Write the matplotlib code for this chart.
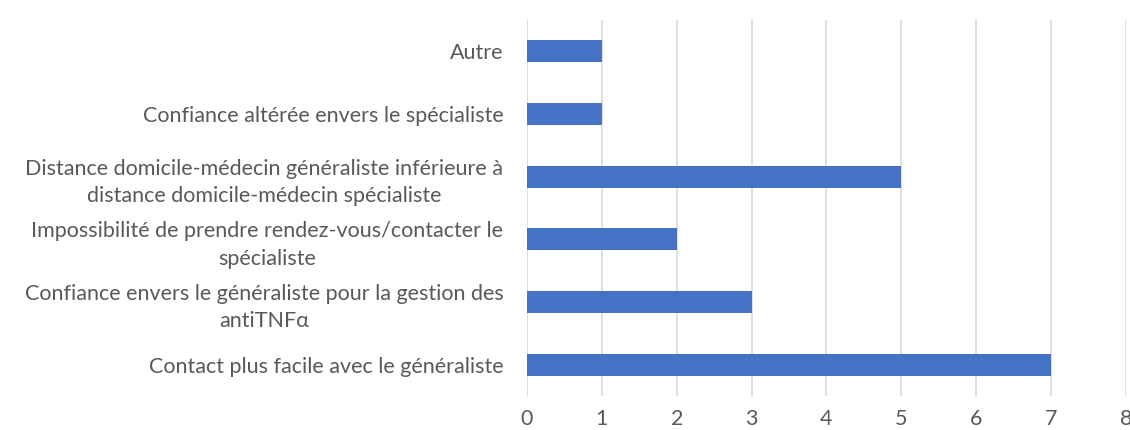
import matplotlib.pyplot as plt

# categories from top to bottom
labels = [
    "Autre",
    "Confiance altérée envers le spécialiste",
    "Distance domicile-médecin généraliste inférieure à\ndistance domicile-médecin spécialiste",
    "Impossibilité de prendre rendez-vous/contacter le\nspécialiste",
    "Confiance envers le généraliste pour la gestion des\nantiTNFα",
    "Contact plus facile avec le généraliste",
]
values = [1, 1, 5, 2, 3, 7]
xticks = [0, 1, 2, 3, 4, 5, 6, 7, 8]

plt.rcParams['font.family'] = ['Lato', 'DejaVu Sans']
text_color = '#595959'

fig = plt.figure(figsize=(11.3, 4.3), dpi=100)
ax = fig.add_axes([0.4664, 0.079, 0.5300, 0.8745])

pos = list(range(len(labels)))
ax.barh(pos, values, height=0.35, color='#4472C4', zorder=3)

ax.set_ylim(len(labels) - 0.5, -0.5)
ax.set_xlim(0, 8)
ax.set_xticks(xticks)
ax.set_yticks(pos)
ax.set_yticklabels(labels, fontsize=15.5, color=text_color,
                   multialignment='center', linespacing=1.45)
ax.tick_params(axis='y', length=0, pad=17)
ax.tick_params(axis='x', length=0, pad=9, labelsize=15.5, labelcolor=text_color)

ax.grid(axis='x', color='#D9D9D9', linewidth=1.2, zorder=0)
for s in ax.spines.values():
    s.set_visible(False)

fig.savefig('out.png', dpi=100)
